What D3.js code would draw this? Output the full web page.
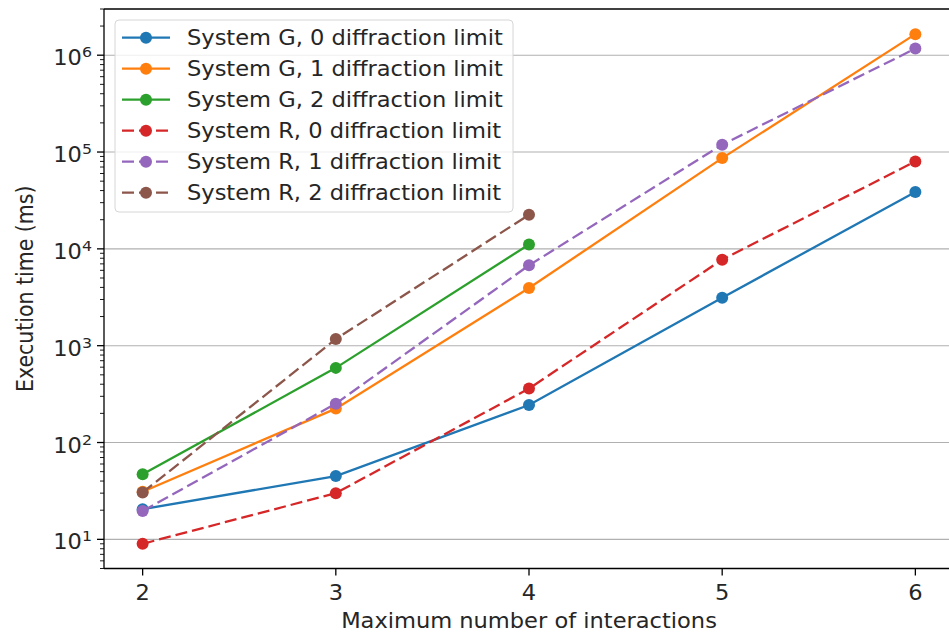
<!DOCTYPE html>
<html>
<head>
<meta charset="utf-8">
<script src="https://cdn.jsdelivr.net/npm/d3@7"></script>
<style>
  body { margin: 0; background: #fff; }
  svg text { font-family: "DejaVu Sans", sans-serif; fill: #262626; }
</style>
</head>
<body>
<div id="chart"></div>
<script>
const interactions = [2, 3, 4, 5, 6];
const seriesNames = [
  "System G, 0 diffraction limit",
  "System G, 1 diffraction limit",
  "System G, 2 diffraction limit",
  "System R, 0 diffraction limit",
  "System R, 1 diffraction limit",
  "System R, 2 diffraction limit"
];
const g0 = [20.5, 45, 244, 3130, 38700];
const g1 = [31, 224, 3940, 86600, 1650000];
const g2 = [47, 590, 11100];
const r0 = [9, 30, 361, 7740, 79900];
const r1 = [19.6, 252, 6760, 119000, 1170000];
const r2 = [30.5, 1170, 22500];
const colors = ["#1f77b4", "#ff7f0e", "#2ca02c", "#d62728", "#9467bd", "#8c564b"];
const dashed = [false, false, false, true, true, true];
const yTickExps = [1, 2, 3, 4, 5, 6];

const allSeries = [g0, g1, g2, r0, r1, r2];

const width = 949;
const height = 634;
const axLeft = 104, axTop = 9, axBottom = 568.5, axRight = 954;
const fontSize = 20.5;
const stretch = 1.1;
const dash = "12,5";

const svg = d3.select("#chart").append("svg")
  .attr("width", width)
  .attr("height", height);

const x = d3.scaleLinear().domain([1.8, 6.2]).range([axLeft, axRight]);
const y = d3.scaleLog().domain([5, 3.0e6]).range([axBottom, axTop]);

// horizontal grid lines at decades
svg.append("g").selectAll("line").data(yTickExps).enter().append("line")
  .attr("x1", axLeft)
  .attr("x2", axRight)
  .attr("y1", (d) => y(Math.pow(10, d)))
  .attr("y2", (d) => y(Math.pow(10, d)))
  .style("stroke", "#b0b0b0")
  .style("stroke-width", 1.1);

// series
const plot = svg.append("g");
allSeries.forEach((vals, si) => {
  const pts = vals.map((v, i) => [interactions[i], v]);
  plot.append("path")
    .datum(pts)
    .attr("d", d3.line().x((d) => x(d[0])).y((d) => y(d[1])))
    .style("fill", "none")
    .style("stroke", colors[si])
    .style("stroke-width", 2.3)
    .style("stroke-dasharray", dashed[si] ? dash : null);
  plot.selectAll(null).data(pts).enter().append("circle")
    .attr("cx", (d) => x(d[0]))
    .attr("cy", (d) => y(d[1]))
    .attr("r", 6)
    .style("fill", colors[si]);
});

// spines
const axisColor = "#000";
svg.append("line").attr("x1", axLeft).attr("x2", axLeft).attr("y1", axTop).attr("y2", axBottom)
  .style("stroke", axisColor).style("stroke-width", 1.3);
svg.append("line").attr("x1", axLeft).attr("x2", axRight).attr("y1", axBottom).attr("y2", axBottom)
  .style("stroke", axisColor).style("stroke-width", 1.3);
svg.append("line").attr("x1", axLeft).attr("x2", axRight).attr("y1", axTop).attr("y2", axTop)
  .style("stroke", axisColor).style("stroke-width", 1.3);

// y minor ticks
const minor = [];
for (let e = 0; e <= 6; e++) {
  for (let m = 2; m <= 9; m++) {
    const v = m * Math.pow(10, e);
    if (v >= y.domain()[0] && v <= y.domain()[1]) minor.push(v);
  }
}
svg.append("g").selectAll("line").data(minor).enter().append("line")
  .attr("x1", axLeft - 4)
  .attr("x2", axLeft)
  .attr("y1", (d) => y(d))
  .attr("y2", (d) => y(d))
  .style("stroke", axisColor)
  .style("stroke-width", 0.9);

// y major ticks + labels
const yTicks = svg.append("g").selectAll("g").data(yTickExps).enter().append("g")
  .attr("transform", (d) => `translate(0,${y(Math.pow(10, d))})`);
yTicks.append("line")
  .attr("x1", axLeft - 7).attr("x2", axLeft)
  .style("stroke", axisColor).style("stroke-width", 1.3);
const yLab = yTicks.append("text")
  .attr("transform", `translate(${axLeft - 12},10) scale(${stretch},1)`)
  .attr("text-anchor", "end")
  .style("font-size", fontSize + "px");
yLab.append("tspan").text("10");
yLab.append("tspan").attr("dy", -8).style("font-size", (fontSize * 0.7) + "px").text((d) => d);

// x ticks + labels
const xTicks = svg.append("g").selectAll("g").data(interactions).enter().append("g")
  .attr("transform", (d) => `translate(${x(d)},${axBottom})`);
xTicks.append("line")
  .attr("y1", 0).attr("y2", 7)
  .style("stroke", axisColor).style("stroke-width", 1.3);
xTicks.append("text")
  .attr("transform", `translate(0,31.5) scale(${stretch},1)`)
  .attr("text-anchor", "middle")
  .style("font-size", fontSize + "px")
  .text((d) => d);

// axis labels
svg.append("text")
  .attr("transform", `translate(${(axLeft + axRight) / 2},628) scale(${stretch},1)`)
  .attr("text-anchor", "middle")
  .style("font-size", fontSize + "px")
  .text("Maximum number of interactions");
svg.append("text")
  .attr("transform", `translate(33,${(axTop + axBottom) / 2}) rotate(-90) scale(1,${stretch})`)
  .attr("text-anchor", "middle")
  .style("font-size", fontSize + "px")
  .text("Execution time (ms)");

// legend
const legend = svg.append("g").attr("transform", "translate(115,20)");
legend.append("rect")
  .attr("width", 398)
  .attr("height", 192)
  .attr("rx", 4)
  .style("fill", "rgba(255,255,255,0.8)")
  .style("stroke", "#d6d6d6")
  .style("stroke-width", 1);
const rows = legend.selectAll("g").data(seriesNames).enter().append("g")
  .attr("transform", (d, i) => `translate(0,${17.7 + i * 31})`);
rows.append("line")
  .attr("x1", 7).attr("x2", 55)
  .style("stroke", (d, i) => colors[i])
  .style("stroke-width", 2.3)
  .style("stroke-dasharray", (d, i) => dashed[i] ? dash : null);
rows.append("circle")
  .attr("cx", 31).attr("r", 6)
  .style("fill", (d, i) => colors[i]);
rows.append("text")
  .attr("transform", `translate(72,7.5) scale(${stretch},1)`)
  .style("font-size", fontSize + "px")
  .text((d) => d);
</script>
</body>
</html>
